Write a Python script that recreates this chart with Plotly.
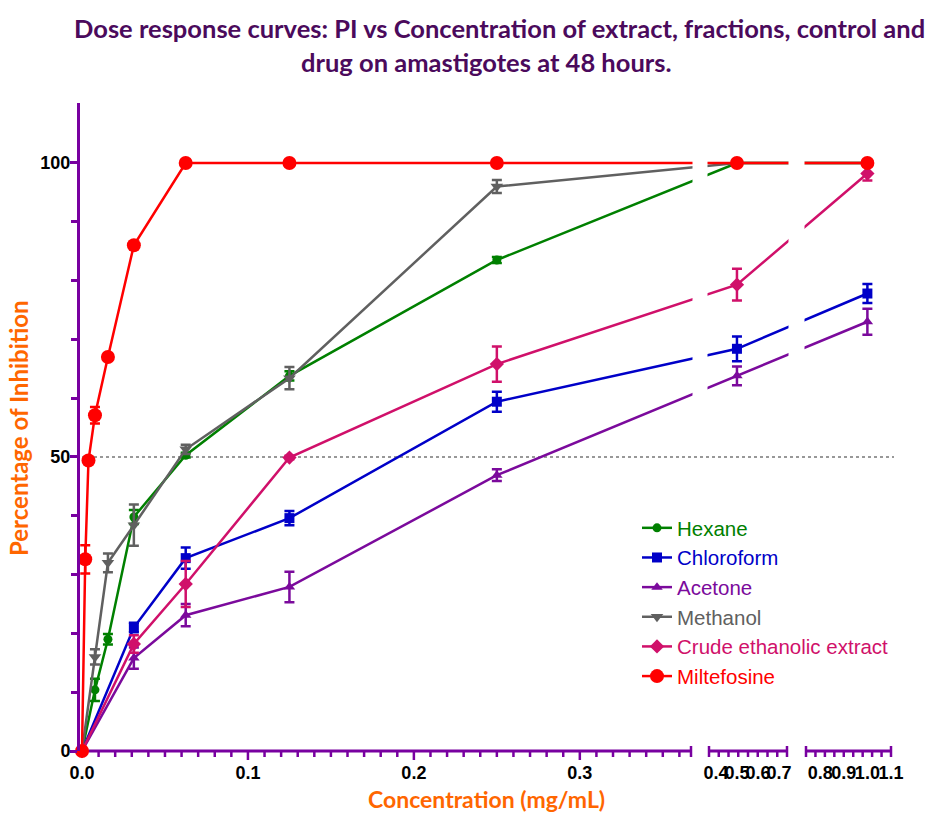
import plotly.graph_objects as go

# Concentrations (mg/mL)
conc_fraction = [0, 0.0078125, 0.015625, 0.03125, 0.0625, 0.125, 0.25, 0.5, 1.0]
conc_late = [0, 0.03125, 0.0625, 0.125, 0.25, 0.5, 1.0]
conc_milt = [0, 0.001953125, 0.00390625, 0.0078125, 0.015625, 0.03125,
             0.0625, 0.125, 0.25, 0.5, 1.0]

# Percentage of inhibition (mean) and error (SEM)
hexane_pi = [0, 10.4, 19.0, 39.8, 50.3, 63.8, 83.5, 100, 100]
hexane_sem = [None, 1.9, 0.9, 1.2, 0.4, 0.8, 0.5, None, None]
chloroform_pi = [0, 21.0, 32.8, 39.6, 59.4, 68.4, 77.8]
chloroform_sem = [None, 0.8, 1.8, 1.2, 1.7, 2.1, 1.6]
acetone_pi = [0, 15.8, 23.1, 27.9, 46.9, 63.8, 73.0]
acetone_sem = [None, 1.8, 1.9, 2.6, 1.0, 1.6, 2.2]
methanol_pi = [0, 16.0, 32.0, 38.4, 51.3, 63.4, 96.0, 100, 100]
methanol_sem = [None, 1.3, 1.6, 3.5, 0.8, 1.9, 1.1, None, None]
crude_pi = [0, 18.2, 28.4, 49.9, 65.8, 79.3, 98.2]
crude_sem = [None, 1.5, 3.9, 0.3, 3.0, 2.7, 1.2]
milt_pi = [0, 32.6, 49.4, 57.1, 67.0, 86.0, 100, 100, 100, 100, 100]
milt_sem = [None, 2.4, 0.3, 1.4, 0.3, 0.3, None, None, None, None, None]

x_tick_labels = ["0.0", "0.1", "0.2", "0.3", "0.4", "0.5", "0.6", "0.7",
                 "0.8", "0.9", "1.0", "1.1"]
y_major = [0, 50, 100]
y_minor = [10, 20, 30, 40, 60, 70, 80, 90]

title_lines = ["Dose response curves: PI vs Concentration of extract, fractions, control and",
               "drug on amastigotes at 48 hours."]

# Broken x axis: (data_lo, data_hi, display_lo, display_hi) for each segment
SEGMENTS = [(0.0, 0.367, 0.0, 609.0),
            (0.367, 0.738, 627.0, 705.0),
            (0.74, 1.1, 724.0, 809.0)]
XR = [-2.0, 812.0]
YR = [0.0, 110.2]
PLOT_H = 648.0
PLOT_BOTTOM = 751.0

AXIS = "#7800A0"
LABEL_FONT = dict(family="Liberation Sans", size=18, color="black", weight=700)
TITLE_FONT = dict(family="Lato", size=25.5, color="#4B0A5C", weight=700)
AXIS_TITLE_FONT = dict(family="Lato", size=23, color="#FF6600", weight=700)


def to_disp(x):
    for lo, hi, dlo, dhi in SEGMENTS:
        if x <= hi + 1e-9:
            return dlo + (x - lo) * (dhi - dlo) / (hi - lo)
    lo, hi, dlo, dhi = SEGMENTS[-1]
    return dlo + (x - lo) * (dhi - dlo) / (hi - lo)


def px(d):
    return (d - XR[0]) / (XR[1] - XR[0])


def py(pixel_row):
    return (PLOT_BOTTOM - pixel_row) / PLOT_H


series = [
    ("Hexane", conc_fraction, hexane_pi, hexane_sem, "#008000", "circle", 9),
    ("Chloroform", conc_late, chloroform_pi, chloroform_sem, "#0000C8", "square", 10),
    ("Acetone", conc_late, acetone_pi, acetone_sem, "#7B0A9C", "triangle-up", 10),
    ("Methanol", conc_fraction, methanol_pi, methanol_sem, "#606060", "triangle-down", 11),
    ("Crude ethanolic extract", conc_late, crude_pi, crude_sem, "#D0106A", "diamond", 11),
    ("Miltefosine", conc_milt, milt_pi, milt_sem, "#FF0000", "circle", 14),
]

fig = go.Figure()
for i, (name, xs, ys, es, col, sym, size) in enumerate(series):
    fig.add_trace(go.Scatter(
        x=[to_disp(v) for v in xs], y=ys, mode="lines+markers",
        name=f'<span style="color:{col}">{name}</span>',
        legendgroup=f"g{i}",
        line=dict(color=col, width=2.5),
        marker=dict(color=col, symbol=sym, size=size, line=dict(width=0)),
        error_y=dict(type="data", array=es, color=col, thickness=2.5, width=5),
        cliponaxis=False,
    ))

shapes = []
# reference line at 50 %
shapes.append(dict(type="line", xref="paper", yref="y", x0=px(0), x1=1.0, y0=50, y1=50,
                   line=dict(color="#333333", width=1.2, dash="dot"), layer="below"))
# breaks in the curves where the axis is broken
for (a, b) in zip(SEGMENTS[:-1], SEGMENTS[1:]):
    shapes.append(dict(type="rect", xref="x", yref="y", x0=a[3] + 1.5, x1=b[2] - 1.5,
                       y0=52, y1=YR[1], fillcolor="white", line=dict(width=0), layer="above"))


def vtick(d, up, down):
    return dict(type="line", xref="paper", yref="paper", x0=px(d), x1=px(d),
                y0=up / PLOT_H, y1=-down / PLOT_H,
                line=dict(color=AXIS, width=2.5), layer="below")


# broken x axis line, end caps and ticks
for k, (lo, hi, dlo, dhi) in enumerate(SEGMENTS):
    start = XR[0] if k == 0 else dlo
    shapes.append(dict(type="line", xref="paper", yref="paper", x0=px(start), x1=px(dhi),
                       y0=0, y1=0, line=dict(color=AXIS, width=3), layer="below"))
    if k > 0:
        shapes.append(vtick(dlo, 5, 6))
    shapes.append(vtick(dhi, 5, 6))
    if k == 0:
        n = int(round(hi * 100))
        for j in range(1, n + 1):
            d = to_disp(j / 100)
            if d >= dhi - 1:
                continue
            shapes.append(vtick(d, 0, 9 if j % 10 == 0 else 6))
    else:
        n = 8 if k == 1 else 9
        for j in range(1, n):
            shapes.append(vtick(dlo + j * (dhi - dlo) / n, 0, 6))

tick_vals = [to_disp(float(t)) for t in x_tick_labels]

annotations = [
    dict(text=title_lines[0], xref="paper", yref="paper", x=px(417), y=py(28),
         xanchor="center", yanchor="middle", showarrow=False, font=TITLE_FONT),
    dict(text=title_lines[1], xref="paper", yref="paper", x=px(404), y=py(62),
         xanchor="center", yanchor="middle", showarrow=False, font=TITLE_FONT),
    dict(text="Concentration (mg/mL)", xref="paper", yref="paper",
         x=px(404), y=py(799), xanchor="center", yanchor="middle", showarrow=False,
         font=AXIS_TITLE_FONT),
    dict(text="Percentage of Inhibition", xref="paper", yref="paper",
         x=px(-64), y=py(428), xanchor="center", yanchor="middle",
         textangle=-90, showarrow=False,
         font=dict(family="Lato", size=24, color="#FF6600", weight=700)),
]

fig.update_layout(
    width=929, height=814,
    margin=dict(l=80, r=35, t=103, b=63),
    plot_bgcolor="white", paper_bgcolor="white",
    xaxis=dict(range=XR, showgrid=False, zeroline=False, showline=False,
               tickmode="array", tickvals=tick_vals, ticktext=x_tick_labels,
               ticks="", tickangle=0, ticklabelstandoff=9, tickfont=LABEL_FONT),
    yaxis=dict(range=YR, showgrid=False, zeroline=False, showline=True,
               linecolor=AXIS, linewidth=3, ticks="outside", ticklen=7,
               tickwidth=2.5, tickcolor=AXIS, tickmode="array", tickvals=y_major,
               ticktext=[str(v) for v in y_major], tickfont=LABEL_FONT,
               ticklabelstandoff=-4,
               minor=dict(tickmode="array", tickvals=y_minor, ticks="outside",
                          ticklen=6, tickwidth=2.5, tickcolor=AXIS)),
    legend=dict(x=px(555), y=py(508), xanchor="left", yanchor="top",
                bgcolor="rgba(0,0,0,0)", font=dict(family="Liberation Sans", size=20.5),
                tracegroupgap=0, itemwidth=30),
    shapes=shapes,
    annotations=annotations,
    showlegend=True,
)

fig.write_html("out.html")
